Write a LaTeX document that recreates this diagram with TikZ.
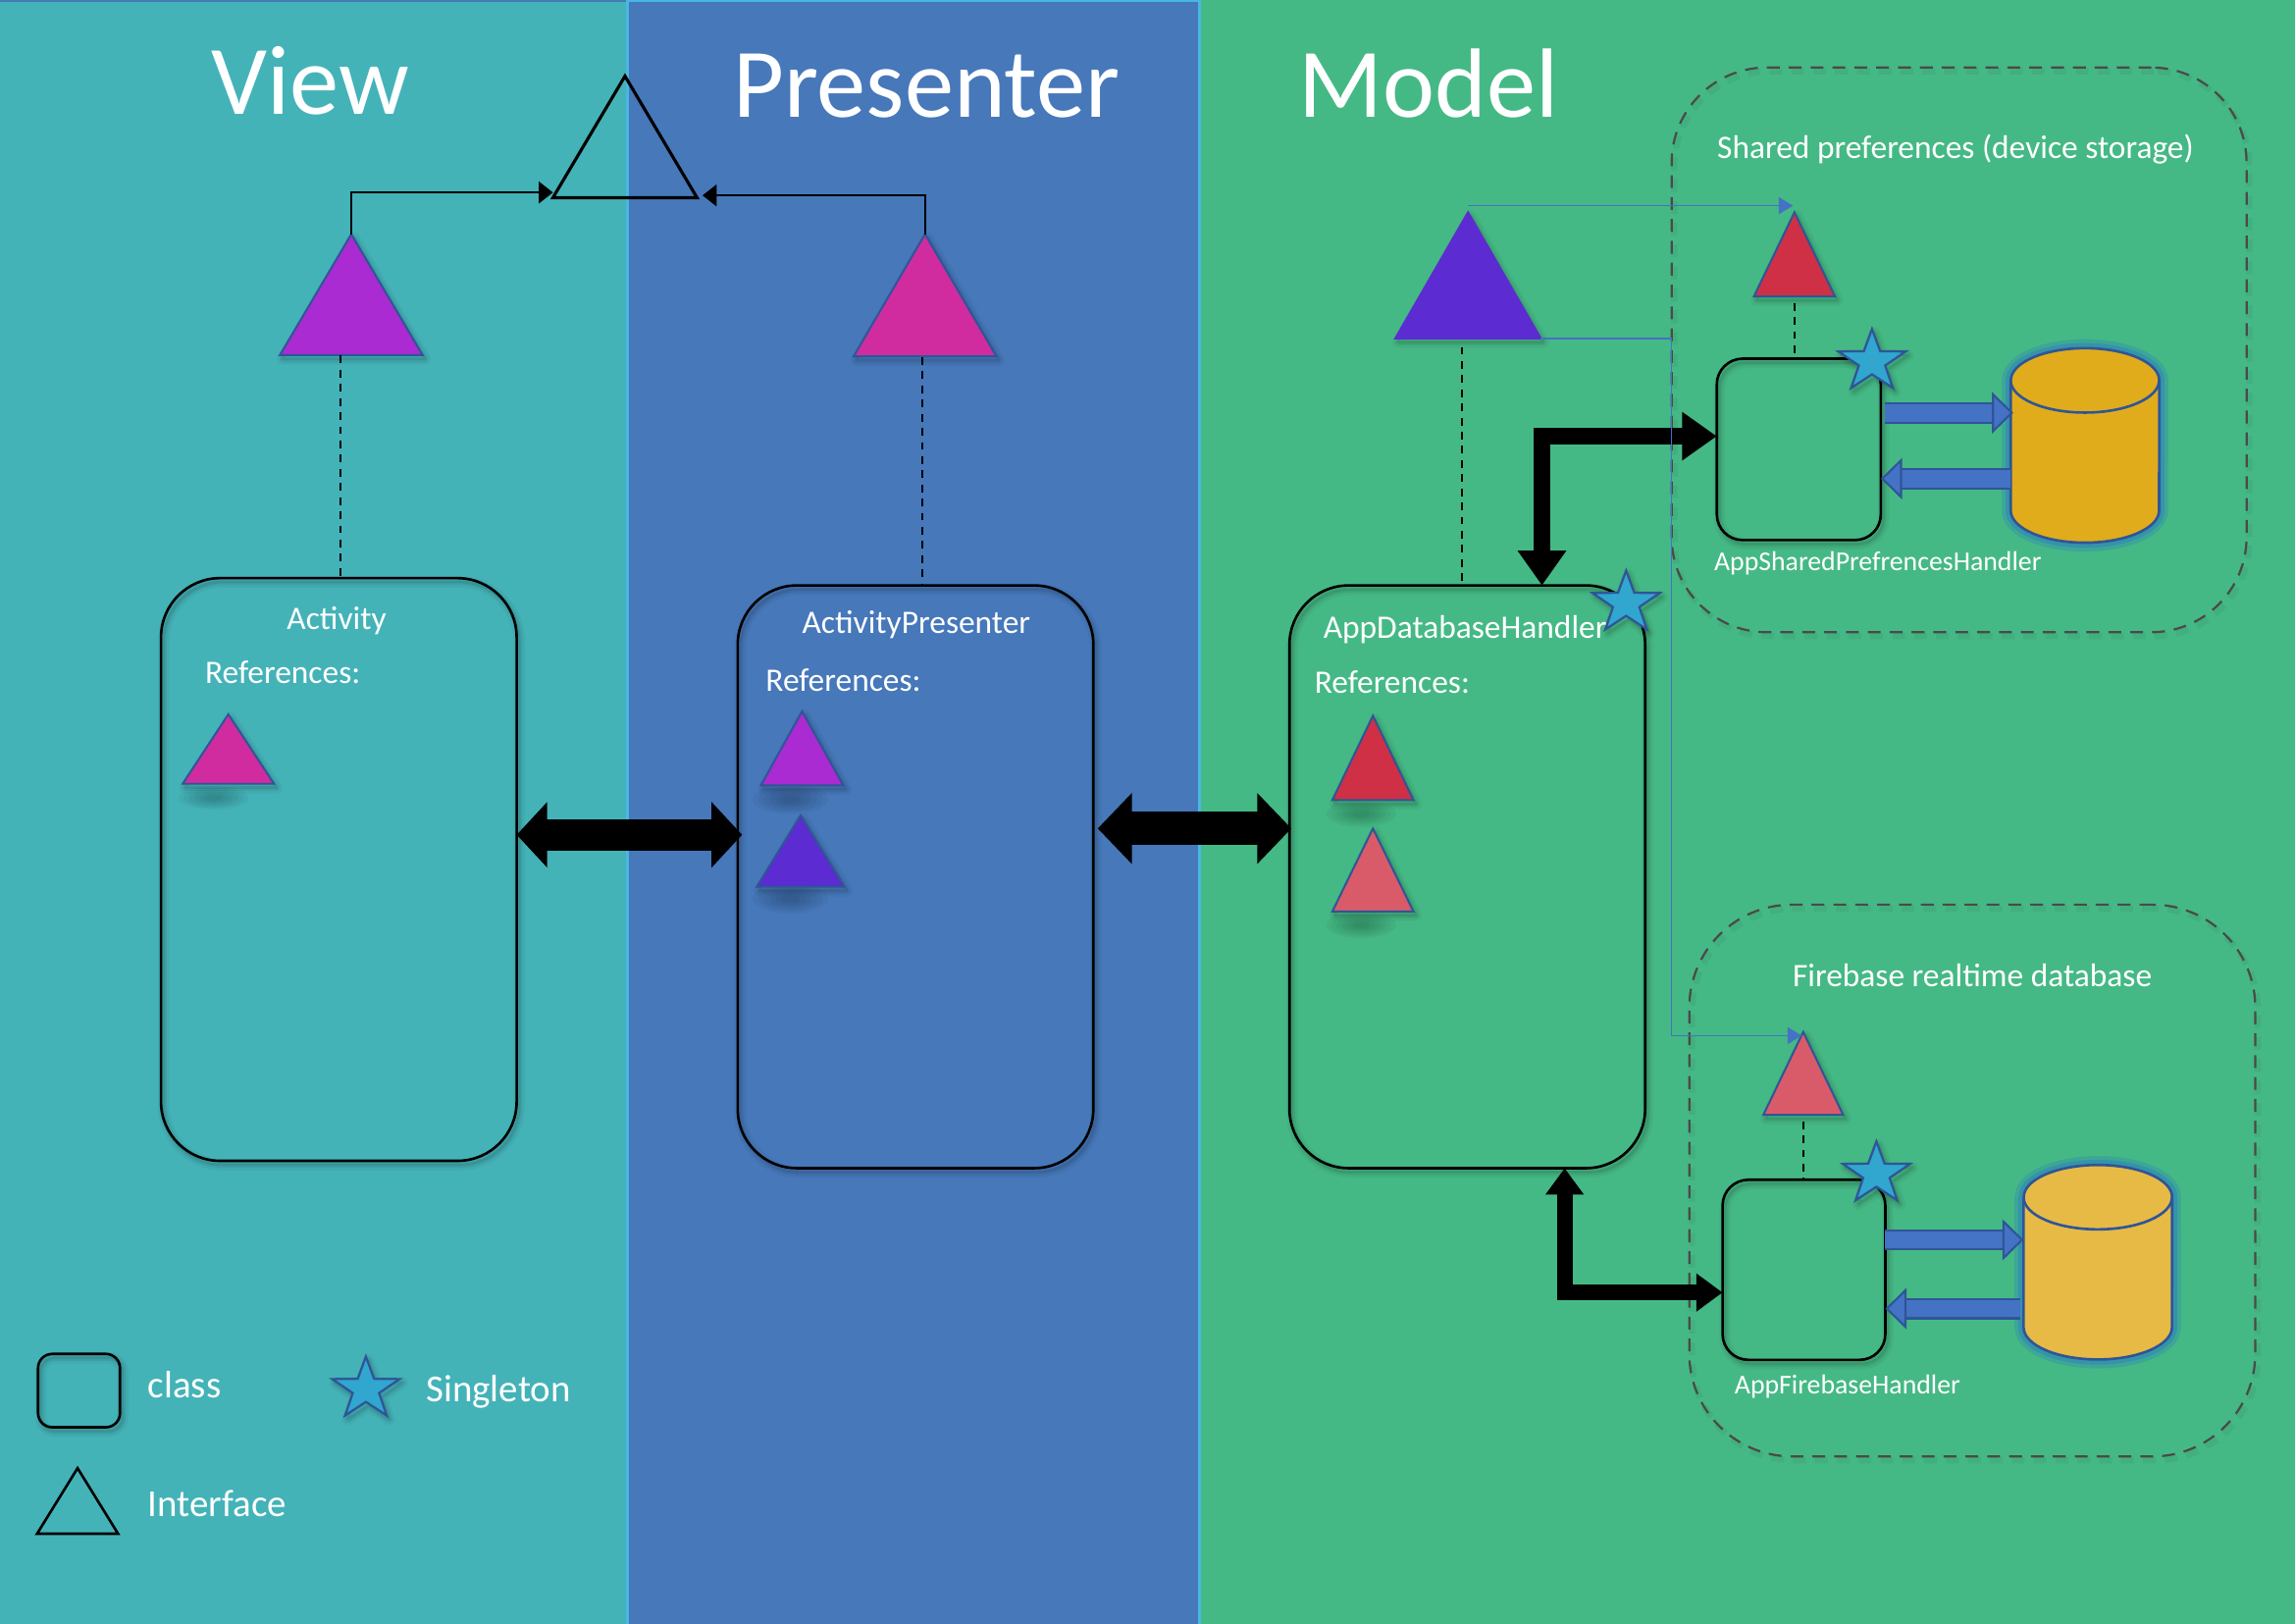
\documentclass[tikz,border=0pt]{standalone}
\usepackage{fontspec}
\setmainfont{Carlito}
\usetikzlibrary{shapes.geometric,arrows.meta,calc}
\definecolor{viewbg}{HTML}{44B3B8}
\definecolor{presbg}{HTML}{4678BA}
\definecolor{modelbg}{HTML}{45B985}
\definecolor{edgeblue}{HTML}{48B6E6}
\definecolor{linkblue}{HTML}{4472C4}
\definecolor{rimblue}{HTML}{2F5597}
\definecolor{cPurple}{HTML}{A92BD1}
\definecolor{cPink}{HTML}{D02CA0}
\definecolor{cIndigo}{HTML}{5C2BD1}
\definecolor{cRed}{HTML}{CF3046}
\definecolor{cCoral}{HTML}{D95B6A}
\definecolor{cGold}{HTML}{E0AC1C}
\definecolor{cGoldB}{HTML}{E6BA45}
\definecolor{cStar}{HTML}{31A6CE}
\definecolor{dashgray}{HTML}{4A4A4A}
\tikzset{
  softshadow/.style={
    preaction={draw=black,opacity=.04,line width=9pt,line join=round,transform canvas={xshift=2pt,yshift=-3pt}},
    preaction={draw=black,opacity=.06,line width=5pt,line join=round,transform canvas={xshift=2pt,yshift=-3pt}},
    preaction={draw=black,opacity=.08,line width=2pt,line join=round,transform canvas={xshift=2pt,yshift=-3pt}}},
  lightshadow/.style={
    preaction={draw=black,opacity=.05,line width=5pt,transform canvas={xshift=2pt,yshift=-3pt}}},
  glow/.style={
    preaction={draw=rimblue!40!cStar,opacity=.35,line width=14pt,line join=round},
    preaction={draw=rimblue!40!cStar,opacity=.6,line width=8pt,line join=round}},
  classbox/.style={rectangle,draw=black,line width=2pt,inner sep=0,outer sep=0,softshadow},
  region/.style={rectangle,draw=dashgray,line width=1.7pt,dash pattern=on 10pt off 7pt,inner sep=0,outer sep=0,lightshadow},
  iface/.style={isosceles triangle,isosceles triangle stretches,shape border rotate=90,inner sep=0,outer sep=0,anchor=apex,line join=miter},
  filledface/.style={iface,draw=rimblue,line width=1.5pt,softshadow},
  plainface/.style={iface,draw=black,line width=2.4pt},
  singleton/.style={star,star points=5,star point ratio=2.55,inner sep=0,outer sep=0,minimum size=55pt,yscale=.92,transform shape,fill=cStar,draw=rimblue,line width=1.7pt,softshadow},
  storebox/.style={rectangle,inner sep=0,outer sep=0},
  drumline/.style={draw=rimblue,line width=2pt,line join=round},
  title/.style={text=white,font=\fontsize{76.6pt}{80pt}\selectfont,inner sep=0},
  label/.style={text=white,font=\fontsize{25.5pt}{28pt}\selectfont,inner sep=0},
  keylabel/.style={text=white,font=\fontsize{29.7pt}{32pt}\selectfont,inner sep=0},
  smalllabel/.style={text=white,font=\fontsize{21.2pt}{24pt}\selectfont,inner sep=0},
  bigarrowA/.style={draw=black,line width=24.7pt,{Triangle[length=23.7pt,width=49.6pt]}-{Triangle[length=23.7pt,width=49.6pt]}},
  bigarrowB/.style={draw=black,line width=26pt,{Triangle[length=26.5pt,width=53.5pt]}-{Triangle[length=26.5pt,width=53.5pt]}},
  elbowa/.style={draw=black,line width=13.5pt,line join=miter,{Triangle[length=27pt,width=36pt]}-{Triangle[length=27pt,width=36pt]}},
  elbowb/.style={draw=black,line width=12pt,line join=miter,{Triangle[length=20.5pt,width=28.5pt]}-{Triangle[length=20.5pt,width=28.5pt]}},
  thinblack/.style={draw=black,line width=1.2pt,-{Triangle[length=11pt,width=17pt]}},
  thinblue/.style={draw=linkblue,line width=1.2pt,-{Triangle[length=11pt,width=13pt]}},
  dashlink/.style={draw=black,line width=1.3pt,dash pattern=on 6pt off 5pt},
  flow/.style={draw=rimblue,double=linkblue,double distance=13.5pt,line width=1.6pt,-{Triangle[length=16.5pt,width=32pt,fill=linkblue]}},
}
\newcommand{\drum}[2]{%
  \draw[drumline,fill=#2,glow] ($(#1.north west)+(0,22)$) -- ($(#1.south west)+(0,-22)$)
    arc[start angle=180,end angle=0,x radius=50.7,y radius=22]
    -- ($(#1.north east)+(0,22)$)
    arc[start angle=0,end angle=-180,x radius=50.7,y radius=22] -- cycle;
  \draw[drumline] ($(#1.north west)+(0,22)$) arc[start angle=180,end angle=0,x radius=50.7,y radius=22];}
\newcommand{\blob}[4]{%
  \foreach \k in {1,.85,.7,.55,.4,.25}{\fill[black,opacity=.04] (#1,#2) ellipse [x radius=\k*#3,y radius=\k*#4];}}
\begin{document}
\begin{tikzpicture}[x=0.04cm,y=-0.04cm]
\useasboundingbox (0,0) rectangle (1568,1108.8);
% panels
\fill[viewbg] (-2,-2) rectangle (428.5,1112);
\fill[presbg] (428.5,-2) rectangle (820,1112);
\fill[modelbg] (820,-2) rectangle (1572,1112);
\draw[presbg,line width=1.6pt] (0,0.4) -- (428.5,0.4);
\draw[edgeblue,line width=2.2pt] (428.5,1112) -- (428.5,0.6) -- (819.5,0.6) -- (819.5,1112);
% titles
\node[title] (tView) at (212,55) {View};
\node[title] (tPres) at (633,59) {Presenter};
\node[title] (tModel) at (976,57) {Model};
% regions
\node[region,rounded corners=74pt,minimum width=447pt,minimum height=439pt] (rShared) at (1338.5,239) {};
\node[region,rounded corners=80pt,minimum width=440pt,minimum height=429pt] (rFire) at (1347.5,806.5) {};
\node[label] (lShared) at (1336,102) {Shared preferences (device storage)};
\node[label] (lFire) at (1347.5,666.5) {Firebase realtime database};
% shadows under the small interface marks
\blob{146}{545}{24}{8}
\blob{540}{546}{26}{10}
\blob{540}{614}{26}{10}
\blob{930}{556}{24}{9}
\blob{930}{632}{24}{9}
% classes
\node[classbox,rounded corners=46pt,minimum width=276.5pt,minimum height=453pt] (activity) at (231.5,594) {};
\node[classbox,rounded corners=46pt,minimum width=276.5pt,minimum height=453pt] (presenter) at (625.5,599) {};
\node[classbox,rounded corners=46pt,minimum width=276.5pt,minimum height=453pt] (dbh) at (1002.5,599) {};
\node[classbox,rounded corners=20pt,minimum width=127.5pt,minimum height=141pt] (sph) at (1229,307) {};
\node[classbox,rounded corners=20pt,minimum width=126.5pt,minimum height=140pt] (fbh) at (1232.5,867.5) {};
\node[classbox,rounded corners=11pt,minimum width=63.7pt,minimum height=57pt] (legClass) at (54,950) {};
% interfaces
\node[plainface,minimum width=112pt,minimum height=94.5pt] (base) at (427,52) {};
\node[filledface,fill=cPurple,minimum width=111pt,minimum height=94pt] (ifView) at (240,160) {};
\node[filledface,fill=cPink,minimum width=111pt,minimum height=95pt] (ifPres) at (632,160) {};
\node[filledface,fill=cIndigo,draw=cIndigo,minimum width=113pt,minimum height=98pt] (ifModel) at (1003,145) {};
\node[filledface,fill=cRed,minimum width=63pt,minimum height=65.5pt] (ifShared) at (1226,145) {};
\node[filledface,fill=cCoral,minimum width=62pt,minimum height=64.5pt] (ifFire) at (1232,705) {};
\node[filledface,fill=cPink,minimum width=71pt,minimum height=54pt] (refA) at (156,488) {};
\node[filledface,fill=cPurple,minimum width=64pt,minimum height=57.5pt] (refB) at (548,486) {};
\node[filledface,fill=cIndigo,minimum width=68pt,minimum height=55.5pt] (refC) at (547,557) {};
\node[filledface,fill=cRed,minimum width=63pt,minimum height=65.5pt] (refD) at (938,489) {};
\node[filledface,fill=cCoral,minimum width=63pt,minimum height=64.5pt] (refE) at (938,566) {};
\node[plainface,minimum width=63pt,minimum height=51pt,line width=2pt] (legTri) at (53,1003) {};
% stores
\node[storebox,minimum width=115.5pt,minimum height=151.2pt] (cylA) at (1424.5,304.3) {};
\node[storebox,minimum width=115.5pt,minimum height=151.2pt] (cylB) at (1433.3,862.3) {};
\drum{cylA}{cGold}
\drum{cylB}{cGoldB}
% reference points for connector heights
\coordinate (hMain) at (0,570.3);
\coordinate (hMainB) at (0,566);
\coordinate (hA1) at (0,282);
\coordinate (hA2) at (0,327);
\coordinate (hB1) at (0,847);
\coordinate (hB2) at (0,894);
\coordinate (hElbA) at (0,298);
\coordinate (vElbA) at (1053.5,0);
\coordinate (hElbB) at (0,883);
\coordinate (vElbB) at (1069,0);
\coordinate (hBaseL) at (0,131.5);
\coordinate (hBaseR) at (0,133.5);
\coordinate (hTopBlue) at (0,140.5);
\coordinate (hLowBlue) at (0,707.5);
\coordinate (vBus) at (1142,0);
\coordinate (tipShared) at (1225,0);
\coordinate (tipFire) at (1231,0);
\coordinate (tipBaseR) at (480,0);
% connectors
\draw[bigarrowA,shorten >=-3.4pt] (activity.east |- hMain) -- (presenter.west |- hMain);
\draw[bigarrowB,shorten <=3.4pt,shorten >=-1.5pt] (presenter.east |- hMainB) -- (dbh.west |- hMainB);
\draw[elbowa] (vElbA |- dbh.north) -- (vElbA |- hElbA) -- (sph.west |- hElbA);
\draw[elbowb] (vElbB |- dbh.south) -- (vElbB |- hElbB) -- (fbh.west |- hElbB);
\draw[thinblack] (ifView.apex) -- (ifView.apex |- hBaseL) -- (base.left corner |- hBaseL);
\draw[thinblack] (ifPres.apex) -- (ifPres.apex |- hBaseR) -- (tipBaseR |- hBaseR);
\draw[thinblue] (ifModel.apex |- hTopBlue) -- (tipShared |- hTopBlue);
\draw[thinblue] (ifModel.right corner) -- (vBus |- ifModel.right corner) -- (vBus |- hLowBlue) -- (tipFire |- hLowBlue);
\coordinate (dView) at (232.5,243);
\coordinate (dPres) at (630,244);
\coordinate (dModel) at (999,237);
\draw[dashlink] (dView) -- (dView |- activity.north);
\draw[dashlink] (dPres) -- (dPres |- presenter.north);
\draw[dashlink] (dModel) -- (dModel |- dbh.north);
\draw[dashlink] ([yshift=-5pt]ifShared.south) -- (ifShared.south |- sph.north);
\draw[dashlink] ([yshift=-5pt]ifFire.south) -- (ifFire.south |- fbh.north);
\draw[flow,shorten <=3.4pt,shorten >=-2pt] (sph.east |- hA1) -- (cylA.west |- hA1);
\draw[flow] (cylA.west |- hA2) -- (sph.east |- hA2);
\draw[flow] (fbh.east |- hB1) -- (cylB.west |- hB1);
\draw[flow,shorten <=2.5pt] (cylB.west |- hB2) -- (fbh.east |- hB2);
% singletons
\node[singleton] (stA) at (1279,247) {};
\node[singleton] (stB) at (1111,412) {};
\node[singleton] (stC) at (1282,802) {};
\node[singleton] (legStar) at (250,949) {};
% labels
\node[label] (lAct) at (230,424) {Activity};
\node[label,anchor=west] (lRefA) at (140,459) {References:};
\node[label] (lPresN) at (626,427) {ActivityPresenter};
\node[label,anchor=west] (lRefB) at (523,465) {References:};
\node[label,anchor=west] (lDb) at (904,430) {AppDatabaseHandler};
\node[label,anchor=west] (lRefC) at (898,466) {References:};
\node[smalllabel,anchor=west] (lSph) at (1171,385) {AppSharedPrefrencesHandler};
\node[smalllabel,anchor=west] (lFbh) at (1185,947) {AppFirebaseHandler};
\node[keylabel,anchor=west] (lClass) at (101,946) {class};
\node[keylabel,anchor=west] (lSingle) at (291,951) {Singleton};
\node[keylabel,anchor=west] (lIface) at (101,1027) {Interface};
\end{tikzpicture}
\end{document}
